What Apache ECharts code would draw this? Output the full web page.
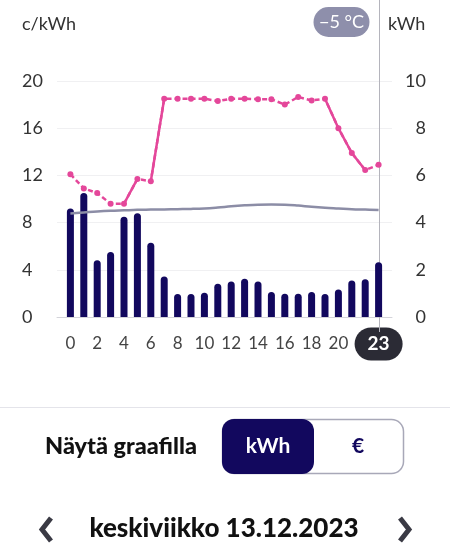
<!DOCTYPE html>
<html>
<head>
    <meta charset="utf-8">
    <title>Kulutus</title>
    <script src="https://cdn.jsdelivr.net/npm/echarts@6/dist/echarts.min.js"></script>
    <style>
        html, body { margin: 0; padding: 0; background: #fff; }
    </style>
</head>
<body>
<div id="main" style="width: 450px;height:557px"></div>
<script type="text/javascript">

    // tunnit, hinta (c/kWh), kulutus (kWh), vertailukäyrä (kWh)
    var hours = [0, 1, 2, 3, 4, 5, 6, 7, 8, 9, 10, 11, 12, 13, 14, 15, 16, 17, 18, 19, 20, 21, 22, 23];
    var price = [12.1, 10.9, 10.5, 9.6, 9.6, 11.7, 11.5, 18.5, 18.5, 18.5, 18.5, 18.3, 18.5, 18.5,
        18.45, 18.45, 18.0, 18.65, 18.35, 18.5, 16.0, 13.9, 12.45, 12.9];
    var usage = [4.6, 5.25, 2.4, 2.75, 4.25, 4.4, 3.15, 1.72, 0.97, 0.97, 1.03, 1.41, 1.5, 1.62,
        1.5, 1.06, 0.99, 0.99, 1.06, 0.97, 1.17, 1.55, 1.6, 2.32];
    var average = [4.39, 4.43, 4.47, 4.5, 4.52, 4.54, 4.55, 4.56, 4.57, 4.58, 4.6, 4.64, 4.69, 4.73,
        4.76, 4.77, 4.76, 4.72, 4.67, 4.63, 4.6, 4.57, 4.55, 4.53];
    var xLabels = [0, 2, 4, 6, 8, 10, 12, 14, 16, 18, 20];
    var selectedHour = 23;
    var temperature = '−5 °C';

    var FONT = 'Lato';
    var navy = '#12085e';
    var pink = '#e4479a';

    // jyrkät kohdat piirretään yhtenäisellä viivalla, muut katkoviivalla
    var steep = [];
    for (var i = 0; i < hours.length - 1; i++) {
        if (Math.abs(price[i + 1] - price[i]) > 1.3) {
            steep.push([hours[i], price[i]], [hours[i + 1], price[i + 1]], '-');
        }
    }

    var myChart = echarts.init(document.getElementById('main'));

    var option = {
        animation: false,
        textStyle: { fontFamily: FONT },
        grid: { left: 57, right: 58, top: 81, bottom: 240 },
        xAxis: {
            type: 'value',
            min: -1,
            max: 24,
            interval: 1,
            splitLine: { show: false },
            axisTick: { show: false },
            axisLine: { lineStyle: { color: '#d4d4da', width: 1 } },
            axisLabel: {
                margin: 17,
                hideOverlap: false,
                formatter: function (v) {
                    if (v === selectedHour) return '{hl|' + v + '}';
                    if (xLabels.indexOf(v) >= 0) return '{n|' + v + '}';
                    return '';
                },
                rich: {
                    n: { fontFamily: FONT, fontSize: 17, color: '#444', lineHeight: 20, padding: [7, 0] },
                    hl: {
                        fontFamily: FONT, fontSize: 19, fontWeight: 'bold', color: '#fff', lineHeight: 20,
                        padding: [7, 13], backgroundColor: '#2b2b35', borderRadius: 17
                    }
                }
            }
        },
        yAxis: [
            {
                type: 'value', min: 0, max: 20, interval: 4,
                axisLine: { show: false }, axisTick: { show: false },
                splitLine: { lineStyle: { color: '#f0f0f2' } },
                axisLabel: { align: 'left', margin: 35, fontSize: 18, color: '#333', fontFamily: FONT }
            },
            {
                type: 'value', min: 0, max: 10, interval: 2,
                axisLine: { show: false }, axisTick: { show: false },
                splitLine: { show: false },
                axisLabel: { align: 'right', margin: 34, fontSize: 18, color: '#333', fontFamily: FONT }
            }
        ],
        series: [
            {
                type: 'bar',
                yAxisIndex: 1,
                barWidth: 7,
                itemStyle: { color: navy, borderRadius: [4, 4, 0, 0] },
                data: hours.map(function (h, k) { return [h, usage[k]]; }),
                z: 2
            },
            {
                type: 'line',
                yAxisIndex: 1,
                smooth: 0.4,
                symbol: 'none',
                lineStyle: { color: '#8c8da6', width: 2.5 },
                data: hours.map(function (h, k) { return [h, average[k]]; }),
                z: 3
            },
            {
                type: 'line',
                yAxisIndex: 0,
                symbol: 'circle',
                symbolSize: 6,
                itemStyle: { color: pink },
                lineStyle: { color: pink, width: 2.5, type: [5, 3] },
                data: hours.map(function (h, k) { return [h, price[k]]; }),
                z: 5
            },
            {
                type: 'line',
                yAxisIndex: 0,
                symbol: 'none',
                connectNulls: false,
                lineStyle: { color: pink, width: 2.5 },
                data: steep,
                z: 4
            }
        ]
    };
    myChart.setOption(option);

    // valitun tunnin pystyviiva ja lämpötila
    var lineX = Math.round(myChart.convertToPixel({ xAxisIndex: 0 }, selectedHour)) + 0.5;

    myChart.setOption({
        graphic: [
            { type: 'line', shape: { x1: lineX, y1: 0, x2: lineX, y2: 332 }, style: { stroke: '#b4b4bc', lineWidth: 1 }, z: 1 },
            { type: 'text', x: 22, y: 24, style: { text: 'c/kWh', font: '18px ' + FONT, fill: '#333', verticalAlign: 'middle' } },
            { type: 'text', x: 388, y: 24, style: { text: 'kWh', font: '18px ' + FONT, fill: '#333', verticalAlign: 'middle' } },
            { type: 'rect', shape: { x: lineX - 66, y: 7, width: 56, height: 30, r: 15 }, style: { fill: '#8e8fab' } },
            { type: 'text', x: lineX - 38, y: 22, style: { text: temperature, font: '18px ' + FONT, fill: '#fff', align: 'center', verticalAlign: 'middle' } },

            // alaosan ohjaimet
            { type: 'line', shape: { x1: 0, y1: 407.5, x2: 450, y2: 407.5 }, style: { stroke: '#e4e4ea', lineWidth: 1 } },
            { type: 'text', x: 45, y: 446, style: { text: 'Näytä graafilla', font: '900 23.5px ' + FONT, fill: '#111', verticalAlign: 'middle' } },
            { type: 'rect', shape: { x: 222.5, y: 419.5, width: 181, height: 54, r: 12 }, style: { fill: '#fff', stroke: '#a8a8b8', lineWidth: 1.5 } },
            { type: 'rect', shape: { x: 222, y: 419, width: 92, height: 55, r: 12 }, style: { fill: navy } },
            { type: 'text', x: 268, y: 446, style: { text: 'kWh', font: 'bold 21px ' + FONT, fill: '#fff', align: 'center', verticalAlign: 'middle' } },
            { type: 'text', x: 358, y: 446, style: { text: '€', font: 'bold 21px ' + FONT, fill: navy, align: 'center', verticalAlign: 'middle' } },

            { type: 'polyline', shape: { points: [[51, 518], [42, 529.5], [51, 541]] }, style: { stroke: '#3a3a44', lineWidth: 5, fill: null } },
            { type: 'text', x: 224, y: 529, style: { text: 'keskiviikko 13.12.2023', font: '900 26px ' + FONT, fill: '#111', align: 'center', verticalAlign: 'middle' } },
            { type: 'polyline', shape: { points: [[400, 518], [409, 529.5], [400, 541]] }, style: { stroke: '#3a3a44', lineWidth: 5, fill: null } }
        ]
    });
</script>
</body>
</html>
